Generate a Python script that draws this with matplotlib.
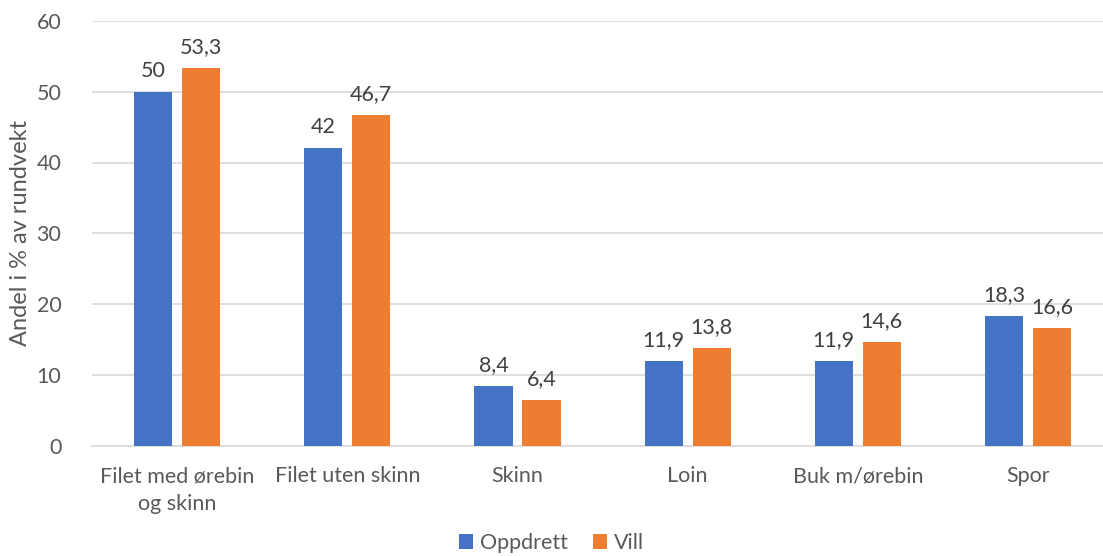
import matplotlib
matplotlib.use("Agg")
import matplotlib.pyplot as plt
import numpy as np

categories = ["Filet med ørebin\nog skinn", "Filet uten skinn", "Skinn", "Loin", "Buk m/ørebin", "Spor"]
oppdrett = [50, 42, 8.4, 11.9, 11.9, 18.3]
vill = [53.3, 46.7, 6.4, 13.8, 14.6, 16.6]
series_names = ["Oppdrett", "Vill"]
yticks = [0, 10, 20, 30, 40, 50, 60]

plt.rcParams["font.family"] = ["Lato", "DejaVu Sans"]

W, H = 1103, 556
fig = plt.figure(figsize=(W / 100, H / 100), dpi=100)
left, right = 92 / W, 1103 / W
bottom, top = 1 - 445.5 / H, 1 - 21 / H
ax = fig.add_axes([left, bottom, right - left, top - bottom])

x = np.arange(len(categories))
bw = 0.224
off = 0.141
blue, orange = "#4472C4", "#ED7D31"
fs = 15.5
b1 = ax.bar(x - off, oppdrett, bw, color=blue, label=series_names[0], zorder=3)
b2 = ax.bar(x + off, vill, bw, color=orange, label=series_names[1], zorder=3)

def fmt(v):
    return (f"{v:g}").replace(".", ",")

for bars, vals in ((b1, oppdrett), (b2, vill)):
    for r, v in zip(bars, vals):
        ax.annotate(fmt(v), (r.get_x() + r.get_width() / 2, v), xytext=(0, 8),
                    textcoords="offset points", ha="center", va="bottom",
                    fontsize=fs, color="#404040")

ax.set_xlim(-0.5, 5 + (1103 - 1028) / 170.2)
ax.set_ylim(0, 60)
ax.set_yticks(yticks)
ax.set_yticklabels([str(t) for t in yticks])
ax.set_xticks(x)
ax.set_xticklabels(categories, linespacing=1.45)
ax.tick_params(axis="both", length=0, labelsize=fs, labelcolor="#595959")
ax.tick_params(axis="y", pad=22)
ax.tick_params(axis="x", pad=15)
ax.grid(axis="y", color="#D9D9D9", linewidth=1.2, zorder=0)
for s in ("top", "right", "left"):
    ax.spines[s].set_visible(False)
ax.spines["bottom"].set_color("#D9D9D9")
ax.spines["bottom"].set_linewidth(1.2)

ax.set_ylabel("Andel i % av rundvekt", fontsize=17, color="#595959", labelpad=4)

fig.legend(handles=[b1, b2], labels=series_names, loc="center", bbox_to_anchor=(0.5, 1 - 543 / H),
           ncol=2, frameon=False, fontsize=fs, labelcolor="#595959",
           handlelength=0.65, handleheight=0.65, handletextpad=0.3, columnspacing=1.2)

fig.savefig("out.png", dpi=100)
